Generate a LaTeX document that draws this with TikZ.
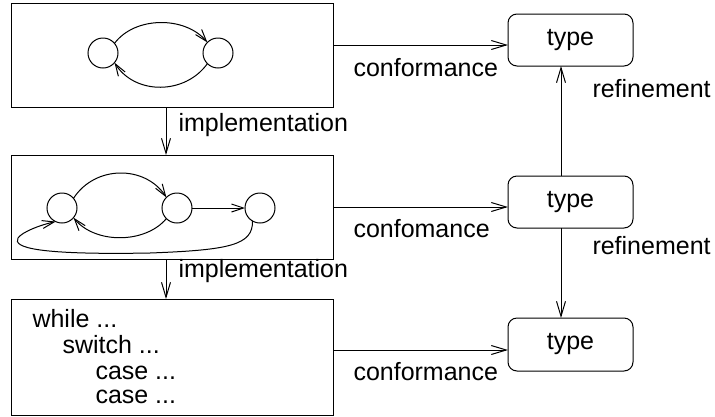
\documentclass[tikz,border=0pt]{standalone}
\usepackage{fontspec}
\setmainfont{Liberation Sans}
\usetikzlibrary{arrows.meta}
\begin{document}
\begin{tikzpicture}[x=1pt,y=-1pt, line width=1pt,
  font=\fontsize{25}{30}\selectfont,
  arr/.style={-{Straight Barb[length=15pt,width=9pt,line width=1pt]}},
  sarr/.style={-{Straight Barb[length=12pt,width=8pt,line width=1pt]}},
  box/.style={draw, minimum width=322pt, inner sep=0pt, outer sep=0pt},
  typebox/.style={draw, rounded corners=9pt, minimum width=125pt, minimum height=52pt, inner sep=0pt, outer sep=0pt},
  st/.style={draw, circle, minimum size=30pt, inner sep=0pt, outer sep=0pt},
  lbl/.style={anchor=base west, inner sep=0pt}]
\useasboundingbox (0,0) rectangle (715,416);

% boxes
\node[box, minimum height=104pt] (box1) at (172,55) {};
\node[box, minimum height=104pt] (box2) at (172,207) {};
\node[box, minimum height=116pt] (box3) at (172,357) {};

% type boxes
\node[typebox] (t1) at (570.5,40) {type};
\node[typebox] (t2) at (570.5,202) {type};
\node[typebox, minimum height=53pt] (t3) at (570.5,344.5) {type};

% top state machine
\node[st] (a1) at (103,53) {};
\node[st] (a2) at (218,53) {};
\draw[sarr] (a1.40) .. controls (135,16) and (185,16) .. (a2.135);
\draw[sarr] (a2.-135) .. controls (185,95) and (135,95) .. (a1.-40);

% middle state machine
\node[st] (b1) at (62,208) {};
\node[st] (b2) at (177,208) {};
\node[st] (b3) at (260,208) {};
\draw[sarr] (b1.40) .. controls (95,165) and (145,165) .. (b2.135);
\draw[sarr] (b2.-135) .. controls (145,244) and (95,244) .. (b1.-40);
\draw[sarr] (b2) -- (b3);
\draw[sarr] (b3.-120) .. controls (253,245) and (230,250) .. (150,253)
  .. controls (40,255) and (12,248) .. (18,238)
  .. controls (22,232) and (40,225) .. (b1.-115);

% code text
\node[lbl] (l1) at (32,327) {while ...};
\node[lbl] (l2) at (62,353) {switch ...};
\node[lbl] (l3) at (95,379) {case ...};
\node[lbl] (l4) at (95,403) {case ...};

% implementation arrows
\coordinate (ix) at (166,0);
\draw[arr] (box1.south -| ix) -- (box2.north -| ix);
\draw[arr] (box2.south -| ix) -- (box3.north -| ix);
\node[lbl] (i1) at (178,131) {implementation};
\node[lbl] (i2) at (178,277) {implementation};

% conformance arrows
\coordinate (c1y) at (0,45);
\coordinate (c2y) at (0,207);
\coordinate (c3y) at (0,350);
\draw[arr] (box1.east |- c1y) -- (t1.west |- c1y);
\draw[arr] (box2.east |- c2y) -- (t2.west |- c2y);
\draw[arr] (box3.east |- c3y) -- (t3.west |- c3y);
\node[lbl] (k1) at (353,76) {conformance};
\node[lbl] (k2) at (353,237) {confomance};
\node[lbl] (k3) at (353,380) {conformance};

% refinement arrows
\coordinate (rx) at (561,0);
\draw[arr] (t2.north -| rx) -- (t1.south -| rx);
\draw[arr] (t2.south -| rx) -- (t3.north -| rx);
\node[lbl] (r1) at (592,97) {refinement};
\node[lbl] (r2) at (592,254) {refinement};
\end{tikzpicture}
\end{document}
